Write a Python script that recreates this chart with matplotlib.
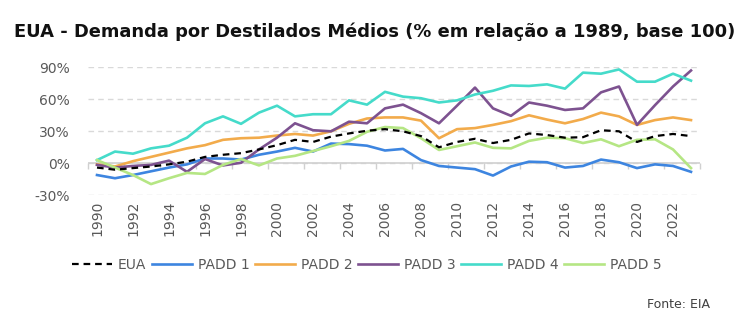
import matplotlib
matplotlib.use("Agg")
import matplotlib.pyplot as plt
from matplotlib.ticker import FuncFormatter

years = list(range(1990, 2024))

eua = [-4, -6, -4.5, -3, -1, 1.5, 6, 8, 9.5, 13, 17,
       22, 20, 25, 28, 30.5, 32, 30, 25.5, 15, 20, 23, 19, 22,
       28, 26.5, 24, 24.5, 31, 30, 20, 25.5, 27.5, 25.5]
padd1 = [-11, -14, -11, -7.5, -4, -1, 4.5, 4.5, 3.5, 8, 11,
         14.5, 11, 18.5, 18, 16.5, 12, 13.5, 3, -2.5, -4, -5.5, -11.5, -3,
         1.5, 1, -4, -2.5, 3.5, 1, -4.5, -1, -2.5, -8]
padd2 = [-1, -3, 2, 6, 10, 14, 17, 22, 23.5, 24, 26,
         27.5, 26, 30, 37, 42, 43, 43, 40, 23.5, 32, 33, 36, 39.5,
         45, 41, 37.5, 41.5, 47.5, 44, 36, 40.5, 43, 40.5]
padd3 = [-1.5, -4, -2.5, -1.5, 2.5, -8, 4, -2, 0.5, 13, 24,
         37.5, 31, 30, 39, 37.5, 51.5, 55, 47, 37.5, 54, 71, 51.5, 44.5,
         57, 54, 50, 51.5, 66.5, 72, 36, 54.5, 72, 87]
padd4 = [3, 11, 9, 14, 16.5, 24, 37.5, 44, 37, 47.5, 54,
         44, 46, 46, 59, 55, 67, 62.5, 61, 57, 59, 64.5, 68, 73,
         72.5, 74, 70, 85, 84, 88, 76.5, 76.5, 84, 77.5]
padd5 = [3, -4, -11, -19.5, -14, -9, -10, -1.5, 4, -2, 4.5,
         7, 11.5, 16, 21, 29.5, 34, 33, 23.5, 12.5, 16, 19.5, 14.5, 14,
         21, 24, 23.5, 19, 22.5, 16, 22, 22.5, 13, -4.5]

series = [
    ("EUA", eua, "black", "--"),
    ("PADD 1", padd1, "#3d85e0", "-"),
    ("PADD 2", padd2, "#f2ab4b", "-"),
    ("PADD 3", padd3, "#7d5290", "-"),
    ("PADD 4", padd4, "#45dbca", "-"),
    ("PADD 5", padd5, "#b5e684", "-"),
]

gray = "#595959"

fig = plt.figure(figsize=(7.56, 3.26), dpi=100)
ax = fig.add_axes([88 / 756, 1 - 195.3 / 326, 612 / 756, 128 / 326])

for name, vals, color, ls in series:
    if ls == "--":
        ax.plot(years, vals, color=color, lw=1.6, ls=(0, (3, 2.2)), label=name, zorder=5)
    else:
        ax.plot(years, vals, color=color, lw=1.9, label=name, zorder=3)

ax.set_xlim(1989.5, 2023.5)
ax.set_ylim(-30, 90)
ax.set_yticks([-30, 0, 30, 60, 90])
ax.yaxis.set_major_formatter(FuncFormatter(lambda v, p: f"{v:.0f}%"))
ax.set_xticks(range(1990, 2023, 2))
ax.tick_params(axis="x", length=0, pad=4, labelrotation=90, labelcolor=gray, labelsize=10)
ax.tick_params(axis="y", length=0, pad=13, labelcolor=gray, labelsize=10)
for s in ax.spines.values():
    s.set_visible(False)
ax.grid(axis="y", color="#d9d9d9", ls=(0, (4, 3)), lw=1)
ax.axhline(0, color="#d0d0d0", lw=1.2, zorder=2)

# category axis line at zero with tick marks between categories
sec = ax.secondary_xaxis(0.25)
sec.set_xticks([x + 0.5 for x in range(1989, 2024, 2)])
sec.tick_params(length=4, color="#d0d0d0", labelbottom=False, width=1)
sec.spines["bottom"].set_visible(False)

leg = fig.legend(loc="center", bbox_to_anchor=(0.485, 1 - 265 / 326), ncol=6, frameon=False,
                 fontsize=10, handlelength=2.9, handletextpad=0.4, columnspacing=0.4)
for t in leg.get_texts():
    t.set_color(gray)

title = fig.text(14 / 756, 1 - 32 / 326,
                 "EUA - Demanda por Destilados Médios (% em relação a 1989, base 100)",
                 fontsize=13, fontweight="bold", color="#111111", va="center", ha="left")
fig.canvas.draw()
w = title.get_window_extent().width
title.set_fontsize(13 * 716 / w)

fig.text(710 / 756, 1 - 304 / 326, "Fonte: EIA", fontsize=9, color="#404040",
         ha="right", va="center")

fig.savefig("out.png", dpi=100)
